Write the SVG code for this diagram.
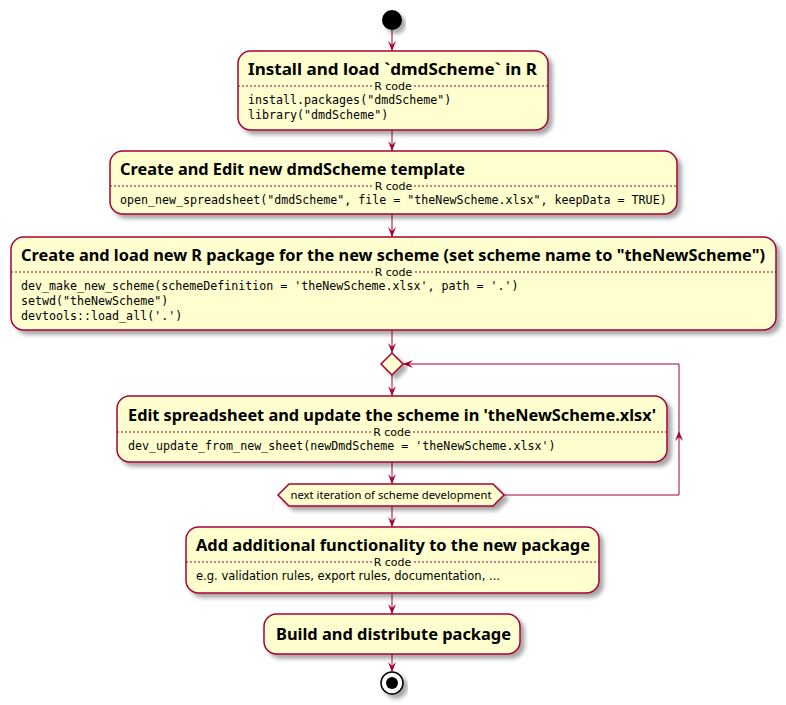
<svg xmlns="http://www.w3.org/2000/svg" width="786" height="705" viewBox="0 0 786 705">
<style>
.box{fill:#FEFECE;stroke:#A80036;stroke-width:1.5;filter:url(#sh)}
.sep{stroke:#A80036;stroke-width:1;stroke-dasharray:2,2}
.lbg{fill:#FEFECE}
.t{font-family:"Noto Sans","Open Sans","DejaVu Sans",sans-serif;font-weight:bold;font-size:16px;fill:#000}
.rc{font-family:"DejaVu Sans","Liberation Sans",sans-serif;font-size:11px;fill:#000;text-anchor:middle}
.c{font-family:"DejaVu Sans Mono","Liberation Mono",monospace;font-size:11.65px;fill:#000}
.s{font-family:"DejaVu Sans","Liberation Sans",sans-serif;font-size:12px;fill:#000}
.h{font-family:"Noto Sans","DejaVu Sans",sans-serif;font-size:11px;fill:#000;text-anchor:middle}
.ln{fill:none;stroke:#A80036;stroke-width:1;marker-end:url(#ah)}
</style>
<defs>
<filter id="sh" x="-10%" y="-20%" width="130%" height="160%">
<feGaussianBlur in="SourceAlpha" stdDeviation="2" result="b"/>
<feOffset in="b" dx="4" dy="4" result="o"/>
<feComponentTransfer in="o" result="o2"><feFuncA type="linear" slope="0.35"/></feComponentTransfer>
<feMerge><feMergeNode in="o2"/><feMergeNode in="SourceGraphic"/></feMerge>
</filter>
<marker id="ah" viewBox="0 0 10 8" refX="10" refY="4" markerWidth="10" markerHeight="8" markerUnits="userSpaceOnUse" orient="auto">
<path d="M0,0 L10,4 L0,8 L4,4 Z" fill="#A80036"/>
</marker>
</defs>

<g id="connectors">
<path class="ln" d="M392,30 V51"/>
<path class="ln" d="M392,130 V151"/>
<path class="ln" d="M392,214 V237"/>
<path class="ln" d="M392,330 V353"/>
<path class="ln" d="M392,375 V396"/>
<path class="ln" d="M392,462 V484"/>
<path class="ln" d="M392,506 V527"/>
<path class="ln" d="M392,593 V614"/>
<path class="ln" d="M392,654 V672"/>
<path class="ln" d="M504,495 H679 V431"/>
<path class="ln" d="M679,431 V364 H403"/>
</g>

<g id="start">
<circle cx="392" cy="20" r="10" fill="#000" filter="url(#sh)"/>
</g>

<g id="install">
<rect class="box" x="238" y="51" width="310" height="79" rx="12.5"/>
<text class="t" x="248" y="75" textLength="289" lengthAdjust="spacingAndGlyphs">Install and load `dmdScheme` in R</text>
<line class="sep" x1="238" y1="86" x2="548" y2="86"/>
<rect class="lbg" x="374" y="81" width="38" height="10"/>
<text class="rc" x="393" y="90">R code</text>
<text class="c" x="248" y="104">install.packages("dmdScheme")</text>
<text class="c" x="248" y="119">library("dmdScheme")</text>
</g>

<g id="create-template">
<rect class="box" x="110" y="151" width="567" height="63" rx="12.5"/>
<text class="t" x="120" y="175" textLength="345" lengthAdjust="spacingAndGlyphs">Create and Edit new dmdScheme template</text>
<line class="sep" x1="110" y1="186" x2="677" y2="186"/>
<rect class="lbg" x="374" y="181" width="39" height="10"/>
<text class="rc" x="393.5" y="190">R code</text>
<text class="c" x="120" y="204">open_new_spreadsheet("dmdScheme", file = "theNewScheme.xlsx", keepData = TRUE)</text>
</g>

<g id="create-package">
<rect class="box" x="11" y="237" width="765" height="93" rx="12.5"/>
<text class="t" x="21" y="261" textLength="744" lengthAdjust="spacingAndGlyphs">Create and load new R package for the new scheme (set scheme name to "theNewScheme")</text>
<line class="sep" x1="11" y1="272" x2="776" y2="272"/>
<rect class="lbg" x="374" y="267" width="39" height="10"/>
<text class="rc" x="393.5" y="276">R code</text>
<text class="c" x="21" y="290">dev_make_new_scheme(schemeDefinition = 'theNewScheme.xlsx', path = '.')</text>
<text class="c" x="21" y="305">setwd("theNewScheme")</text>
<text class="c" x="21" y="320">devtools::load_all('.')</text>
</g>

<g id="merge">
<polygon class="box" points="392,353 403,364 392,375 381,364"/>
</g>

<g id="edit-sheet">
<rect class="box" x="117" y="396" width="550" height="66" rx="12.5"/>
<text class="t" x="128" y="421" textLength="528" lengthAdjust="spacingAndGlyphs">Edit spreadsheet and update the scheme in 'theNewScheme.xlsx'</text>
<line class="sep" x1="117" y1="432" x2="667" y2="432"/>
<rect class="lbg" x="373" y="427" width="38" height="10"/>
<text class="rc" x="392" y="436">R code</text>
<text class="c" x="128" y="450">dev_update_from_new_sheet(newDmdScheme = 'theNewScheme.xlsx')</text>
</g>

<g id="repeat">
<polygon class="box" points="278,495 289,484 493,484 504,495 493,506 289,506"/>
<text class="h" x="391" y="499" textLength="201" lengthAdjust="spacingAndGlyphs">next iteration of scheme development</text>
</g>

<g id="add-functionality">
<rect class="box" x="186" y="527" width="413" height="66" rx="12.5"/>
<text class="t" x="196" y="551" textLength="394" lengthAdjust="spacingAndGlyphs">Add additional functionality to the new package</text>
<line class="sep" x1="186" y1="562" x2="599" y2="562"/>
<rect class="lbg" x="373" y="557" width="39" height="10"/>
<text class="rc" x="392.5" y="566">R code</text>
<text class="s" x="196" y="580" textLength="304" lengthAdjust="spacingAndGlyphs">e.g. validation rules, export rules, documentation, ...</text>
</g>

<g id="build">
<rect class="box" x="264" y="614" width="256" height="40" rx="12.5"/>
<text class="t" x="276" y="640" textLength="235" lengthAdjust="spacingAndGlyphs">Build and distribute package</text>
</g>

<g id="end">
<circle cx="392" cy="683" r="11" fill="#FFFFFF" stroke="#000" stroke-width="1.5" filter="url(#sh)"/>
<circle cx="392" cy="683" r="6" fill="#000"/>
</g>
</svg>
